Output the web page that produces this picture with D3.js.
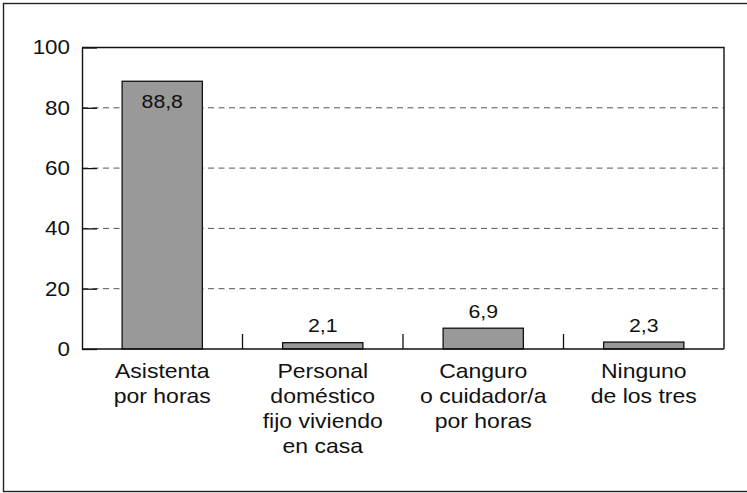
<!DOCTYPE html>
<html>
<head>
<meta charset="utf-8">
<script src="https://cdn.jsdelivr.net/npm/d3@7"></script>
<style>
  html, body { margin: 0; padding: 0; background: #fff; }
  svg { display: block; font-family: "Liberation Sans", Arial, Helvetica, sans-serif; }
</style>
</head>
<body>
<svg id="chart" width="747" height="493"></svg>
<script>
// Service used at home (percent of households)
const categories = [
  ["Asistenta", "por horas"],
  ["Personal", "doméstico", "fijo viviendo", "en casa"],
  ["Canguro", "o cuidador/a", "por horas"],
  ["Ninguno", "de los tres"]
];
const values = [88.8, 2.1, 6.9, 2.3];
const yTicks = [0, 20, 40, 60, 80, 100];

const svg = d3.select("#chart");
const W = 747, H = 493;
const plot = { left: 82, right: 724, top: 47.5, bottom: 349 };
const stretch = 1.12;  // slightly wide type face
const fmt = v => d3.format(".1f")(v).replace(".", ",");

// outer frame (runs off the right edge)
svg.append("rect")
  .attr("x", 3.5).attr("y", 3.5)
  .attr("width", 780).attr("height", 488)
  .attr("fill", "none").attr("stroke", "#222").attr("stroke-width", 1.4);

const keys = categories.map((c, i) => i);
const x = d3.scaleBand().domain(keys)
  .range([plot.left, plot.right])
  .paddingInner(0.5).paddingOuter(0.25);
const y = d3.scaleLinear().domain([0, 100]).range([plot.bottom, plot.top]);

// dashed gridlines
svg.append("g").selectAll("line")
  .data(yTicks.filter(t => t > 0 && t < 100))
  .join("line")
  .attr("x1", plot.left).attr("x2", plot.right)
  .attr("y1", d => y(d)).attr("y2", d => y(d))
  .attr("stroke", "#555").attr("stroke-width", 1)
  .attr("stroke-dasharray", "6,4.5");

// bars
svg.append("g").selectAll("rect")
  .data(values)
  .join("rect")
  .attr("x", (d, i) => x(i))
  .attr("width", x.bandwidth())
  .attr("y", d => y(d))
  .attr("height", d => y(0) - y(d))
  .attr("fill", "#999")
  .attr("stroke", "#111").attr("stroke-width", 1.3);

// value labels (inside the tall bar, above the others)
svg.append("g").selectAll("text")
  .data(values)
  .join("text")
  .attr("text-anchor", "middle")
  .attr("font-size", 19)
  .attr("fill", "#111")
  .attr("transform", (d, i) => {
    const cx = x(i) + x.bandwidth() / 2;
    const by = d > 50 ? y(d) + 27 : y(d) - 10.5;
    return `translate(${cx},${by}) scale(${stretch},1)`;
  })
  .text(d => fmt(d));

// frame: top and right edges
svg.append("path")
  .attr("d", `M${plot.left},${plot.top}H${plot.right}V${plot.bottom}`)
  .attr("fill", "none").attr("stroke", "#111").attr("stroke-width", 1.4);

// y axis with inward ticks
const yAxis = svg.append("g")
  .attr("transform", `translate(${plot.left},0)`)
  .call(d3.axisLeft(y).tickValues(yTicks).tickSizeInner(-15).tickSizeOuter(0).tickPadding(12));
yAxis.select(".domain").attr("stroke", "#111").attr("stroke-width", 1.4);
yAxis.selectAll(".tick line").attr("stroke", "#111").attr("stroke-width", 1.3);
yAxis.selectAll(".tick text")
  .attr("font-family", "Liberation Sans, Arial, sans-serif")
  .attr("font-size", 20).attr("fill", "#111")
  .attr("x", 0)
  .attr("transform", `translate(-12,0) scale(${stretch},1)`);

// x axis baseline
svg.append("line")
  .attr("x1", plot.left).attr("x2", plot.right)
  .attr("y1", y(0)).attr("y2", y(0))
  .attr("stroke", "#111").attr("stroke-width", 1.5);

// category separators rising from the baseline
const step = x.step();
svg.append("g").selectAll("line")
  .data(keys.slice(1))
  .join("line")
  .attr("x1", d => x(d) - step * x.paddingInner() / 2)
  .attr("x2", d => x(d) - step * x.paddingInner() / 2)
  .attr("y1", y(0)).attr("y2", y(0) - 15)
  .attr("stroke", "#111").attr("stroke-width", 1.3);

// category labels
const cat = svg.append("g").selectAll("text")
  .data(categories)
  .join("text")
  .attr("text-anchor", "middle")
  .attr("font-size", 20)
  .attr("fill", "#111")
  .attr("transform", (d, i) => `translate(${x(i) + x.bandwidth() / 2},${y(0) + 29}) scale(${stretch + 0.03},1)`);
cat.selectAll("tspan")
  .data(d => d)
  .join("tspan")
  .attr("x", 0)
  .attr("y", (d, j) => j * 25)
  .text(d => d);
</script>
</body>
</html>
